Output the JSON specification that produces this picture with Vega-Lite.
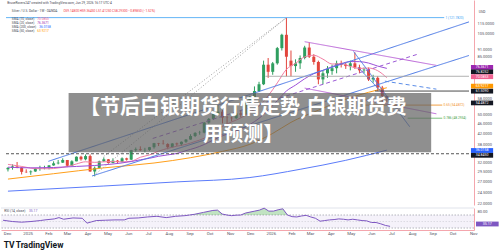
{
"$schema":"https://vega.github.io/schema/vega-lite/v6.json",
"padding":0,
"background":"#ffffff",
"spacing":0,
"config":{"view":{"stroke":null},"font":"Roboto","axis":{"grid":false,"ticks":false,"labelFont":"Roboto","labelColor":"#50535e"}},
"resolve":{"scale":{"x":"independent","y":"independent"}},
"datasets":{
"candles":[
{"date":"2024-11-25","o":30.2,"h":30.8,"l":29.6,"c":30.6},
{"date":"2024-12-02","o":30.6,"h":31.6,"l":30.1,"c":31.0},
{"date":"2024-12-09","o":31.0,"h":32.3,"l":30.5,"c":30.6},
{"date":"2024-12-16","o":30.6,"h":30.9,"l":28.8,"c":29.5},
{"date":"2024-12-23","o":29.5,"h":30.2,"l":29.2,"c":29.4},
{"date":"2024-12-30","o":29.4,"h":29.9,"l":28.7,"c":29.6},
{"date":"2025-01-06","o":29.6,"h":30.5,"l":29.5,"c":30.4},
{"date":"2025-01-13","o":30.4,"h":31.2,"l":29.8,"c":30.5},
{"date":"2025-01-20","o":30.5,"h":31.2,"l":30.2,"c":30.6},
{"date":"2025-01-27","o":30.6,"h":31.4,"l":30.2,"c":31.3},
{"date":"2025-02-03","o":31.3,"h":32.5,"l":31.2,"c":31.9},
{"date":"2025-02-10","o":31.9,"h":32.9,"l":31.6,"c":32.1},
{"date":"2025-02-17","o":32.1,"h":33.4,"l":32.0,"c":32.9},
{"date":"2025-02-24","o":32.9,"h":32.9,"l":30.8,"c":31.2},
{"date":"2025-03-03","o":31.2,"h":32.8,"l":31.1,"c":32.5},
{"date":"2025-03-10","o":32.5,"h":34.0,"l":32.5,"c":33.9},
{"date":"2025-03-17","o":33.9,"h":34.2,"l":32.7,"c":33.1},
{"date":"2025-03-24","o":33.1,"h":34.6,"l":32.8,"c":34.1},
{"date":"2025-03-31","o":34.1,"h":34.6,"l":29.5,"c":29.6},
{"date":"2025-04-07","o":29.6,"h":31.0,"l":28.3,"c":30.6},
{"date":"2025-04-14","o":30.6,"h":32.7,"l":30.5,"c":32.5},
{"date":"2025-04-21","o":32.5,"h":33.7,"l":32.3,"c":33.1},
{"date":"2025-04-28","o":33.1,"h":33.2,"l":31.8,"c":32.0},
{"date":"2025-05-05","o":32.0,"h":33.4,"l":31.9,"c":32.7},
{"date":"2025-05-12","o":32.7,"h":32.9,"l":31.7,"c":32.3},
{"date":"2025-05-19","o":32.3,"h":33.7,"l":32.2,"c":33.4},
{"date":"2025-05-26","o":33.4,"h":33.6,"l":32.7,"c":33.0},
{"date":"2025-06-02","o":33.0,"h":36.1,"l":32.9,"c":36.0},
{"date":"2025-06-09","o":36.0,"h":36.9,"l":35.5,"c":36.3},
{"date":"2025-06-16","o":36.3,"h":37.3,"l":35.8,"c":36.0},
{"date":"2025-06-23","o":36.0,"h":36.8,"l":35.3,"c":36.1},
{"date":"2025-06-30","o":36.1,"h":37.1,"l":35.8,"c":37.0},
{"date":"2025-07-07","o":37.0,"h":38.5,"l":36.5,"c":38.4},
{"date":"2025-07-14","o":38.4,"h":38.5,"l":37.4,"c":38.2},
{"date":"2025-07-21","o":38.2,"h":39.5,"l":37.9,"c":38.1},
{"date":"2025-07-28","o":38.1,"h":38.4,"l":36.3,"c":37.0},
{"date":"2025-08-04","o":37.0,"h":38.4,"l":36.9,"c":38.3},
{"date":"2025-08-11","o":38.3,"h":38.6,"l":37.4,"c":38.0},
{"date":"2025-08-18","o":38.0,"h":39.0,"l":37.4,"c":38.9},
{"date":"2025-08-25","o":38.9,"h":39.9,"l":38.5,"c":39.7},
{"date":"2025-09-01","o":39.7,"h":41.7,"l":39.6,"c":41.0},
{"date":"2025-09-08","o":41.0,"h":42.5,"l":40.6,"c":42.2},
{"date":"2025-09-15","o":42.2,"h":43.0,"l":41.5,"c":42.3},
{"date":"2025-09-22","o":42.3,"h":46.6,"l":42.0,"c":46.4},
{"date":"2025-09-29","o":46.4,"h":48.4,"l":45.9,"c":48.0},
{"date":"2025-10-06","o":48.0,"h":51.2,"l":47.5,"c":50.2},
{"date":"2025-10-13","o":50.2,"h":54.5,"l":50.0,"c":51.3},
{"date":"2025-10-20","o":51.3,"h":52.1,"l":46.0,"c":48.6},
{"date":"2025-10-27","o":48.6,"h":49.3,"l":45.5,"c":48.5},
{"date":"2025-11-03","o":48.5,"h":49.0,"l":46.9,"c":48.3},
{"date":"2025-11-10","o":48.3,"h":54.4,"l":48.0,"c":50.5},
{"date":"2025-11-17","o":50.5,"h":51.6,"l":48.6,"c":49.9},
{"date":"2025-11-24","o":49.9,"h":56.9,"l":49.6,"c":56.4},
{"date":"2025-12-01","o":56.4,"h":59.3,"l":55.8,"c":58.3},
{"date":"2025-12-08","o":58.3,"h":64.7,"l":57.9,"c":62.0},
{"date":"2025-12-15","o":62.0,"h":67.5,"l":61.5,"c":66.0},
{"date":"2025-12-22","o":66.0,"h":82.0,"l":65.5,"c":79.0},
{"date":"2025-12-29","o":79.0,"h":84.0,"l":70.0,"c":74.0},
{"date":"2026-01-05","o":74.0,"h":81.0,"l":72.0,"c":80.0},
{"date":"2026-01-12","o":80.0,"h":93.0,"l":79.0,"c":92.0},
{"date":"2026-01-19","o":92.0,"h":105.0,"l":90.0,"c":104.0},
{"date":"2026-01-26","o":104.0,"h":121.78,"l":71.0,"c":85.0},
{"date":"2026-02-02","o":82.0,"h":90.0,"l":71.0,"c":78.0},
{"date":"2026-02-09","o":78.0,"h":83.0,"l":74.0,"c":80.0},
{"date":"2026-02-16","o":80.0,"h":86.0,"l":76.0,"c":84.0},
{"date":"2026-02-23","o":84.0,"h":94.0,"l":83.0,"c":92.5},
{"date":"2026-03-02","o":92.5,"h":97.0,"l":84.0,"c":85.0},
{"date":"2026-03-09","o":85.0,"h":87.0,"l":79.0,"c":81.0},
{"date":"2026-03-16","o":81.0,"h":82.0,"l":66.0,"c":69.0},
{"date":"2026-03-23","o":69.0,"h":75.0,"l":66.0,"c":73.0},
{"date":"2026-03-30","o":73.0,"h":78.0,"l":70.0,"c":76.0},
{"date":"2026-04-06","o":74.5,"h":79.0,"l":72.0,"c":76.5},
{"date":"2026-04-13","o":76.5,"h":82.0,"l":73.0,"c":80.0},
{"date":"2026-04-20","o":80.0,"h":82.0,"l":77.0,"c":79.0},
{"date":"2026-04-27","o":79.0,"h":80.5,"l":76.0,"c":78.0},
{"date":"2026-05-04","o":78.0,"h":82.0,"l":75.0,"c":80.0},
{"date":"2026-05-11","o":80.0,"h":88.5,"l":76.0,"c":77.0},
{"date":"2026-05-18","o":77.0,"h":79.0,"l":73.0,"c":75.0},
{"date":"2026-05-25","o":75.0,"h":77.0,"l":73.0,"c":75.5},
{"date":"2026-06-01","o":75.5,"h":77.0,"l":68.0,"c":69.0},
{"date":"2026-06-08","o":69.0,"h":72.0,"l":67.0,"c":70.0},
{"date":"2026-06-15","o":70.0,"h":71.0,"l":62.0,"c":64.0},
{"date":"2026-06-22","o":64.0,"h":65.0,"l":55.0,"c":59.2},
{"date":"2026-06-29","o":59.15,"h":59.36,"l":56.0,"c":58.29}
],
"sma":[
{"s":"sma10","date":"2024-11-25","p":31.6},{"s":"sma10","date":"2024-12-16","p":31.0},{"s":"sma10","date":"2025-01-06","p":30.4},{"s":"sma10","date":"2025-01-27","p":30.34},{"s":"sma10","date":"2025-02-10","p":30.58},{"s":"sma10","date":"2025-02-24","p":30.98},{"s":"sma10","date":"2025-03-10","p":31.72},{"s":"sma10","date":"2025-03-24","p":32.36},{"s":"sma10","date":"2025-04-07","p":32.19},{"s":"sma10","date":"2025-04-21","p":32.35},{"s":"sma10","date":"2025-05-05","p":32.41},{"s":"sma10","date":"2025-05-19","p":32.34},{"s":"sma10","date":"2025-06-02","p":32.52},{"s":"sma10","date":"2025-06-16","p":33.73},{"s":"sma10","date":"2025-06-30","p":34.47},{"s":"sma10","date":"2025-07-14","p":35.66},{"s":"sma10","date":"2025-07-28","p":36.61},{"s":"sma10","date":"2025-08-11","p":37.34},{"s":"sma10","date":"2025-08-25","p":37.97},{"s":"sma10","date":"2025-09-08","p":38.99},{"s":"sma10","date":"2025-09-22","p":40.19},{"s":"sma10","date":"2025-10-06","p":42.49},{"s":"sma10","date":"2025-10-20","p":44.85},{"s":"sma10","date":"2025-11-03","p":46.68},{"s":"sma10","date":"2025-11-17","p":48.4},{"s":"sma10","date":"2025-12-01","p":51.01},{"s":"sma10","date":"2025-12-15","p":53.99},{"s":"sma10","date":"2025-12-29","p":59.3},{"s":"sma10","date":"2026-01-12","p":66.81},{"s":"sma10","date":"2026-01-26","p":75.67},{"s":"sma10","date":"2026-02-09","p":80.0},{"s":"sma10","date":"2026-02-23","p":84.85},{"s":"sma10","date":"2026-03-09","p":86.15},{"s":"sma10","date":"2026-03-23","p":83.15},{"s":"sma10","date":"2026-04-06","p":79.5},{"s":"sma10","date":"2026-04-20","p":79.6},{"s":"sma10","date":"2026-05-04","p":77.75},{"s":"sma10","date":"2026-05-18","p":76.35},{"s":"sma10","date":"2026-06-01","p":76.6},{"s":"sma10","date":"2026-06-15","p":74.75},{"s":"sma10","date":"2026-06-29","p":70.09},
{"s":"sma20","date":"2024-11-25","p":30.8},{"s":"sma20","date":"2024-12-30","p":30.6},{"s":"sma20","date":"2025-02-03","p":30.7},{"s":"sma20","date":"2025-03-10","p":31.0},{"s":"sma20","date":"2025-04-07","p":31.27},{"s":"sma20","date":"2025-04-21","p":31.47},{"s":"sma20","date":"2025-05-05","p":31.7},{"s":"sma20","date":"2025-05-19","p":32.03},{"s":"sma20","date":"2025-06-02","p":32.44},{"s":"sma20","date":"2025-06-16","p":32.96},{"s":"sma20","date":"2025-06-30","p":33.41},{"s":"sma20","date":"2025-07-14","p":34.04},{"s":"sma20","date":"2025-07-28","p":34.48},{"s":"sma20","date":"2025-08-11","p":34.93},{"s":"sma20","date":"2025-08-25","p":35.85},{"s":"sma20","date":"2025-09-08","p":36.73},{"s":"sma20","date":"2025-09-22","p":37.93},{"s":"sma20","date":"2025-10-06","p":39.55},{"s":"sma20","date":"2025-10-20","p":41.1},{"s":"sma20","date":"2025-11-03","p":42.33},{"s":"sma20","date":"2025-11-17","p":43.7},{"s":"sma20","date":"2025-12-01","p":45.6},{"s":"sma20","date":"2025-12-15","p":48.24},{"s":"sma20","date":"2025-12-29","p":52.08},{"s":"sma20","date":"2026-01-12","p":56.75},{"s":"sma20","date":"2026-01-26","p":62.04},{"s":"sma20","date":"2026-02-09","p":65.5},{"s":"sma20","date":"2026-02-23","p":69.42},{"s":"sma20","date":"2026-03-09","p":72.73},{"s":"sma20","date":"2026-03-23","p":74.98},{"s":"sma20","date":"2026-04-06","p":77.59},{"s":"sma20","date":"2026-04-20","p":79.8},{"s":"sma20","date":"2026-05-04","p":81.3},{"s":"sma20","date":"2026-05-18","p":81.25},{"s":"sma20","date":"2026-06-01","p":80.2},{"s":"sma20","date":"2026-06-15","p":78.0},{"s":"sma20","date":"2026-06-29","p":76.37},
{"s":"sma50","date":"2024-11-25","p":27.6},{"s":"sma50","date":"2025-02-03","p":29.0},{"s":"sma50","date":"2025-04-21","p":30.6},{"s":"sma50","date":"2025-07-07","p":32.0},{"s":"sma50","date":"2025-09-01","p":33.6},{"s":"sma50","date":"2025-10-20","p":35.6},{"s":"sma50","date":"2025-12-01","p":38.0},{"s":"sma50","date":"2026-01-05","p":42.0},{"s":"sma50","date":"2026-02-02","p":46.5},{"s":"sma50","date":"2026-03-16","p":52.0},{"s":"sma50","date":"2026-04-27","p":57.5},{"s":"sma50","date":"2026-06-01","p":61.3},{"s":"sma50","date":"2026-06-29","p":63.92},
{"s":"sma200","date":"2024-11-25","p":24.7},{"s":"sma200","date":"2025-04-21","p":25.9},{"s":"sma200","date":"2025-08-11","p":26.9},{"s":"sma200","date":"2025-12-01","p":28.0},{"s":"sma200","date":"2026-02-16","p":30.2},{"s":"sma200","date":"2026-04-27","p":32.8},{"s":"sma200","date":"2026-06-29","p":36.02}
],
"draw":[
{"id":"b1","g":"blue","date":"2025-01-26","p":32.5},{"id":"b1","g":"blue","date":"2026-11-02","p":117.1},
{"id":"b2","g":"blue","date":"2025-04-03","p":28.4},{"id":"b2","g":"blue","date":"2026-11-02","p":86.0},
{"id":"b3","g":"blue","date":"2026-05-09","p":89.2},{"id":"b3","g":"blue","date":"2026-08-03","p":44.7},
{"id":"b4","g":"blue","date":"2026-05-16","p":77.1},{"id":"b4","g":"blue","date":"2026-07-27","p":48.9},
{"id":"p1","g":"purple","date":"2026-02-23","p":97.6},{"id":"p1","g":"purple","date":"2026-09-13","p":78.5},
{"id":"p2","g":"purple","date":"2026-02-23","p":63.7},{"id":"p2","g":"purple","date":"2026-09-13","p":50.3},
{"id":"p3","g":"pdash","date":"2025-07-05","p":40.1},{"id":"p3","g":"pdash","date":"2026-08-14","p":86.8},
{"id":"b5","g":"bdash","date":"2026-06-26","p":67.9},{"id":"b5","g":"bdash","date":"2026-09-13","p":63.1},
{"id":"d1","g":"dot","date":"2025-04-06","p":28.6},{"id":"d1","g":"dot","date":"2026-01-26","p":121.78},
{"id":"d2","g":"dot","date":"2025-04-21","p":34.0},{"id":"d2","g":"dot","date":"2026-01-26","p":121.78},
{"id":"f1","g":"fib1","date":"2024-11-22","p":121.78},{"id":"f1","g":"fib1","date":"2026-09-25","p":121.78},
{"id":"f2","g":"fib65","date":"2026-05-24","p":54.4872},{"id":"f2","g":"fib65","date":"2026-09-22","p":54.4872},
{"id":"f3","g":"fib786","date":"2026-07-31","p":48.2934},{"id":"f3","g":"fib786","date":"2026-09-22","p":48.2934},
{"id":"h1","g":"hgrey","date":"2025-12-25","p":71.0},{"id":"h1","g":"hgrey","date":"2026-11-02","p":71.0},
{"id":"h2","g":"hdark","date":"2026-06-11","p":62.0},{"id":"h2","g":"hdark","date":"2026-11-02","p":62.0},
{"id":"h3","g":"hdash","date":"2024-11-22","p":34.845},{"id":"h3","g":"hdash","date":"2026-11-02","p":34.845}
],
"labels":[
{"date":"2024-11-24","p":139.2,"t":"BruceRovers247 created with TradingView.com, Jun 29, 2026 16:17 UTC-4","g":"hd"},
{"date":"2024-12-01","p":129.5,"t":"Silver / U.S. Dollar · 1W · OANDA","g":"hd"},
{"date":"2025-02-18","p":129.5,"t":"O59.14800 H59.36450 L51.41250 C58.29300 −0.89850 (−1.52%)","g":"red"},
{"date":"2024-12-01","p":120.3,"t":"SMA (10, close)","g":"hd"},
{"date":"2025-01-09","p":120.3,"t":"70.0853","g":"sma10"},
{"date":"2024-12-01","p":116.0,"t":"SMA (20, close)","g":"hd"},
{"date":"2025-01-09","p":116.0,"t":"76.3671","g":"sma20"},
{"date":"2024-12-01","p":111.9,"t":"SMA (200, close)","g":"hd"},
{"date":"2025-01-12","p":111.9,"t":"36.0158","g":"sma200"},
{"date":"2024-12-01","p":107.9,"t":"SMA (50, close)","g":"hd"},
{"date":"2025-01-09","p":107.9,"t":"63.9217","g":"sma50"},
{"date":"2026-09-27","p":121.78,"t":"1 (121.7820)","g":"fib1"},
{"date":"2026-09-24","p":54.4872,"t":"0.65 (54.4872)","g":"fib65"},
{"date":"2026-09-24","p":48.2934,"t":"0.786 (48.2934)","g":"fib786"}
],
"boxes":[
{"d1":"2026-11-05","d2":"2026-12-09","dc":"2026-11-22","p1":78.8,"p2":75.4,"pc":77.1,"t":"76.3671","g":"sma20"},
{"d1":"2026-11-05","d2":"2026-12-09","dc":"2026-11-22","p1":75.6,"p2":72.4,"pc":74.0,"t":"76.8252","g":"black"},
{"d1":"2026-11-05","d2":"2026-12-09","dc":"2026-11-22","p1":72.3,"p2":69.2,"pc":70.7,"t":"70.0853","g":"sma10"},
{"d1":"2026-11-05","d2":"2026-12-09","dc":"2026-11-22","p1":66.3,"p2":63.5,"pc":64.9,"t":"63.9217","g":"sma50"},
{"d1":"2026-11-05","d2":"2026-12-09","dc":"2026-11-22","p1":63.3,"p2":60.6,"pc":62.0,"t":"61.5090","g":"black"},
{"d1":"2026-11-05","d2":"2026-12-09","dc":"2026-11-22","p1":56.8,"p2":54.4,"pc":55.6,"t":"54.4872","g":"black"},
{"d1":"2026-11-05","d2":"2026-12-09","dc":"2026-11-22","p1":36.7,"p2":35.1,"pc":35.9,"t":"36.0158","g":"sma200"},
{"d1":"2026-11-05","d2":"2026-12-09","dc":"2026-11-22","p1":35.1,"p2":33.6,"pc":34.3,"t":"34.8450","g":"black"}
],
"rsi":[
{"date":"2024-11-25","r":54},{"date":"2024-12-09","r":50},{"date":"2024-12-23","r":48},{"date":"2025-01-06","r":50},{"date":"2025-01-20","r":53},{"date":"2025-01-27","r":55},{"date":"2025-02-10","r":58},{"date":"2025-02-17","r":62},{"date":"2025-02-24","r":57},{"date":"2025-03-10","r":61},{"date":"2025-03-24","r":60},{"date":"2025-03-31","r":45},{"date":"2025-04-07","r":49},{"date":"2025-04-14","r":53},{"date":"2025-04-28","r":54},{"date":"2025-05-12","r":55},{"date":"2025-05-26","r":55},{"date":"2025-06-02","r":60},{"date":"2025-06-16","r":61},{"date":"2025-06-30","r":64},{"date":"2025-07-14","r":66},{"date":"2025-07-28","r":62},{"date":"2025-08-11","r":66},{"date":"2025-08-25","r":68},{"date":"2025-09-01","r":70},{"date":"2025-09-08","r":72},{"date":"2025-09-22","r":78},{"date":"2025-10-06","r":84},{"date":"2025-10-13","r":85},{"date":"2025-10-20","r":73},{"date":"2025-10-27","r":70},{"date":"2025-11-03","r":68},{"date":"2025-11-10","r":69.5},{"date":"2025-11-17","r":70},{"date":"2025-11-24","r":76},{"date":"2025-12-08","r":82},{"date":"2025-12-15","r":85},{"date":"2025-12-22","r":91},{"date":"2025-12-29","r":82},{"date":"2026-01-05","r":82},{"date":"2026-01-12","r":86},{"date":"2026-01-19","r":89},{"date":"2026-01-26","r":70},{"date":"2026-02-02","r":65},{"date":"2026-02-09","r":64},{"date":"2026-02-16","r":67},{"date":"2026-02-23","r":69},{"date":"2026-03-02","r":64},{"date":"2026-03-09","r":60},{"date":"2026-03-16","r":51},{"date":"2026-03-23","r":53},{"date":"2026-03-30","r":55},{"date":"2026-04-06","r":56},{"date":"2026-04-13","r":58},{"date":"2026-04-20","r":57},{"date":"2026-04-27","r":55},{"date":"2026-05-04","r":57},{"date":"2026-05-11","r":55},{"date":"2026-05-18","r":53},{"date":"2026-05-25","r":52},{"date":"2026-06-01","r":47},{"date":"2026-06-08","r":47},{"date":"2026-06-15","r":43},{"date":"2026-06-22","r":38},{"date":"2026-06-29","r":35.17}
],
"rsiob":[
{"seg":"a","date":"2025-09-01","r":70},{"seg":"a","date":"2025-09-08","r":72},{"seg":"a","date":"2025-09-22","r":78},{"seg":"a","date":"2025-10-06","r":84},{"seg":"a","date":"2025-10-13","r":85},{"seg":"a","date":"2025-10-20","r":73},{"seg":"a","date":"2025-10-27","r":70},
{"seg":"b","date":"2025-11-17","r":70},{"seg":"b","date":"2025-11-24","r":76},{"seg":"b","date":"2025-12-08","r":82},{"seg":"b","date":"2025-12-15","r":85},{"seg":"b","date":"2025-12-22","r":91},{"seg":"b","date":"2025-12-29","r":82},{"seg":"b","date":"2026-01-05","r":82},{"seg":"b","date":"2026-01-12","r":86},{"seg":"b","date":"2026-01-19","r":89},{"seg":"b","date":"2026-01-26","r":70}
]
},
"vconcat":[
{
"width":473,"height":205,
"resolve":{"scale":{"color":"independent","strokeDash":"independent"}},
"layer":[
{"data":{"name":"candles"},"mark":{"type":"rule","strokeWidth":1},
 "encoding":{
  "x":{"field":"date","type":"temporal","title":null,"scale":{"type":"utc","domain":[{"year":2024,"month":11,"date":22,"utc":true},{"year":2026,"month":11,"date":2,"utc":true}]},"axis":null},
  "y":{"field":"l","type":"quantitative","title":null,"scale":{"type":"log","domain":[21.75,143.2],"nice":false},"axis":{"orient":"right","values":[115,105,91,85,58,50,46,42,38,32,29.5,27,24.5,22],"format":".4f","labelFontSize":4,"labelPadding":3,"domainColor":"#f4a6ad","title":null}},
  "y2":{"field":"h"},
  "color":{"condition":{"test":"datum.c >= datum.o","value":"#2f9e5f"},"value":"#e2453c"}}},
{"data":{"name":"candles"},"mark":{"type":"bar","size":3},
 "encoding":{
  "x":{"field":"date","type":"temporal","title":null},
  "y":{"field":"o","type":"quantitative","title":null},
  "y2":{"field":"c"},
  "color":{"condition":{"test":"datum.c >= datum.o","value":"#2f9e5f"},"value":"#e2453c"}}},
{"data":{"name":"sma"},"mark":{"type":"line","strokeWidth":1,"interpolate":"monotone"},
 "encoding":{
  "x":{"field":"date","type":"temporal","title":null},
  "y":{"field":"p","type":"quantitative","title":null},
  "color":{"field":"s","type":"nominal","legend":null,"scale":{"domain":["sma10","sma20","sma50","sma200"],"range":["#f27ea4","#9c4fd8","#ff9f1a","#5c7cfa"]}}}},
{"data":{"name":"draw"},"mark":{"type":"line","strokeWidth":1},
 "encoding":{
  "x":{"field":"date","type":"temporal","title":null},
  "y":{"field":"p","type":"quantitative","title":null},
  "detail":{"field":"id"},
  "color":{"field":"g","type":"nominal","legend":null,"scale":{"domain":["blue","purple","pdash","bdash","dot","fib1","fib65","fib786","hgrey","hdark","hdash"],"range":["#4a78e6","#bb66d8","#9c5ad6","#5b8de8","#9e9e9e","#64b5f6","#f0922b","#66bb6a","#a0a0a0","#444444","#555555"]}},
  "strokeDash":{"field":"g","type":"nominal","legend":null,"scale":{"domain":["blue","purple","pdash","bdash","dot","fib1","fib65","fib786","hgrey","hdark","hdash"],"range":[[1,0],[1,0],[4,3],[4,3],[1,2],[1,0],[1,0],[1,0],[1,0],[1,0],[3,2]]}}}},
{"data":{"name":"labels"},"mark":{"type":"text","align":"left","baseline":"middle","fontSize":3.2},
 "encoding":{
  "x":{"field":"date","type":"temporal","title":null},
  "y":{"field":"p","type":"quantitative","title":null},
  "text":{"field":"t"},
  "color":{"field":"g","type":"nominal","legend":null,"scale":{"domain":["hd","red","sma10","sma20","sma200","sma50","fib1","fib65","fib786"],"range":["#434651","#f23645","#f06292","#9c27b0","#2962ff","#ff9800","#42a5f5","#f0922b","#43a047"]}}}},
{"data":{"name":"boxes"},"mark":{"type":"rect"},
 "encoding":{
  "x":{"field":"d1","type":"temporal","title":null},
  "x2":{"field":"d2"},
  "y":{"field":"p1","type":"quantitative","title":null},
  "y2":{"field":"p2"},
  "color":{"field":"g","type":"nominal","legend":null,"scale":{"domain":["sma20","black","sma10","sma50","sma200"],"range":["#9c27b0","#131722","#f06292","#ff9800","#2962ff"]}}}},
{"data":{"name":"boxes"},"mark":{"type":"text","align":"center","baseline":"middle","fontSize":3.5,"color":"#ffffff"},
 "encoding":{
  "x":{"field":"dc","type":"temporal","title":null},
  "y":{"field":"pc","type":"quantitative","title":null},
  "text":{"field":"t"}}},
{"data":{"values":[{"date":"2026-11-22","p":128.3,"t":"USD"}]},"mark":{"type":"text","align":"center","baseline":"middle","fontSize":3.6,"color":"#434651"},
 "encoding":{
  "x":{"field":"date","type":"temporal","title":null},
  "y":{"field":"p","type":"quantitative","title":null},
  "text":{"field":"t"}}},
{"data":{"values":[{"d1":"2025-02-26","d2":"2026-09-05","p1":60.9,"p2":35.3}]},"mark":{"type":"rect","color":"#5f5f5f","opacity":0.7},
 "encoding":{
  "x":{"field":"d1","type":"temporal","title":null},
  "x2":{"field":"d2"},
  "y":{"field":"p1","type":"quantitative","title":null},
  "y2":{"field":"p2"}}},
{"data":{"values":[{"date":"2025-11-21","p":53.3,"t":"【节后白银期货行情走势,白银期货费"},{"date":"2025-11-21","p":41.5,"t":"用预测】"}]},
 "mark":{"type":"text","font":"Noto Sans CJK SC","fontSize":20,"fontWeight":"bold","color":"#ffffff","align":"center","baseline":"middle"},
 "encoding":{
  "x":{"field":"date","type":"temporal","title":null},
  "y":{"field":"p","type":"quantitative","title":null},
  "text":{"field":"t"}}}
]
},
{
"width":473,"height":22,
"resolve":{"scale":{"color":"independent"}},
"layer":[
{"data":{"values":[{"d1":"2024-11-22","d2":"2026-11-02","lo":30,"hi":70}]},"mark":{"type":"rect","color":"#7e57c2","opacity":0.08},
 "encoding":{
  "x":{"field":"d1","type":"temporal","title":null,"scale":{"type":"utc","domain":[{"year":2024,"month":11,"date":22,"utc":true},{"year":2026,"month":11,"date":2,"utc":true}]},"axis":{"tickCount":{"interval":"month","step":1},"labelExpr":"utcFormat(datum.value, '%m') === '01' ? utcFormat(datum.value, '%Y') : utcFormat(datum.value, '%b')","labelFontSize":4.3,"labelPadding":1.5,"domainColor":"#f4a6ad","labelOverlap":false,"labelFlush":false,"title":null}},
  "x2":{"field":"d2"},
  "y":{"field":"lo","type":"quantitative","title":null,"scale":{"domain":[24,91.5],"nice":false,"zero":false},"axis":{"orient":"right","values":[80],"format":".2f","labelFontSize":4,"labelPadding":3,"domainColor":"#f4a6ad","title":null}},
  "y2":{"field":"hi"}}},
{"data":{"values":[{"v":91.5}]},"mark":{"type":"rule","color":"#e0e3eb","strokeWidth":1},
 "encoding":{"y":{"field":"v","type":"quantitative","title":null}}},
{"data":{"values":[{"v":70},{"v":30}]},"mark":{"type":"rule","color":"#9598a1","strokeDash":[1.5,1.5],"strokeWidth":0.7},
 "encoding":{"y":{"field":"v","type":"quantitative","title":null}}},
{"data":{"values":[{"v":50}]},"mark":{"type":"rule","color":"#9598a1","strokeDash":[1.5,1.5],"strokeWidth":0.5,"opacity":0.5},
 "encoding":{"y":{"field":"v","type":"quantitative","title":null}}},
{"data":{"name":"rsiob"},"mark":{"type":"area","color":"#4caf50","opacity":0.35},
 "encoding":{
  "x":{"field":"date","type":"temporal","title":null},
  "y":{"field":"r","type":"quantitative","title":null},
  "y2":{"datum":70},
  "detail":{"field":"seg"}}},
{"data":{"name":"rsi"},"mark":{"type":"line","color":"#7e57c2","strokeWidth":1},
 "encoding":{
  "x":{"field":"date","type":"temporal","title":null},
  "y":{"field":"r","type":"quantitative","title":null}}},
{"data":{"values":[{"date":"2024-11-27","r":82.3,"t":"RSI (14, close)","g":"l"},{"date":"2025-01-03","r":82.3,"t":"35.17","g":"v"}]},
 "mark":{"type":"text","align":"left","baseline":"middle","fontSize":3.3},
 "encoding":{
  "x":{"field":"date","type":"temporal","title":null},
  "y":{"field":"r","type":"quantitative","title":null},
  "text":{"field":"t"},
  "color":{"field":"g","type":"nominal","legend":null,"scale":{"domain":["l","v"],"range":["#434651","#7e57c2"]}}}},
{"data":{"values":[{"d1":"2026-11-05","d2":"2026-12-09","r1":49.8,"r2":35.0}]},"mark":{"type":"rect","color":"#7e57c2"},
 "encoding":{
  "x":{"field":"d1","type":"temporal","title":null},
  "x2":{"field":"d2"},
  "y":{"field":"r1","type":"quantitative","title":null},
  "y2":{"field":"r2"}}},
{"data":{"values":[{"date":"2026-11-22","r":42.4,"t":"35.17"}]},"mark":{"type":"text","align":"center","baseline":"middle","fontSize":3.6,"color":"#ffffff"},
 "encoding":{
  "x":{"field":"date","type":"temporal","title":null},
  "y":{"field":"r","type":"quantitative","title":null},
  "text":{"field":"t"}}},
{"data":{"values":[{"date":"2024-11-26","r":-22,"t":"TV"},{"date":"2024-12-14","r":-22,"t":"TradingView"}]},
 "mark":{"type":"text","align":"left","baseline":"middle","fontSize":8.5,"fontWeight":"bold","color":"#131722"},
 "encoding":{
  "x":{"field":"date","type":"temporal","title":null},
  "y":{"field":"r","type":"quantitative","title":null},
  "text":{"field":"t"}}}
]
}
]
}
